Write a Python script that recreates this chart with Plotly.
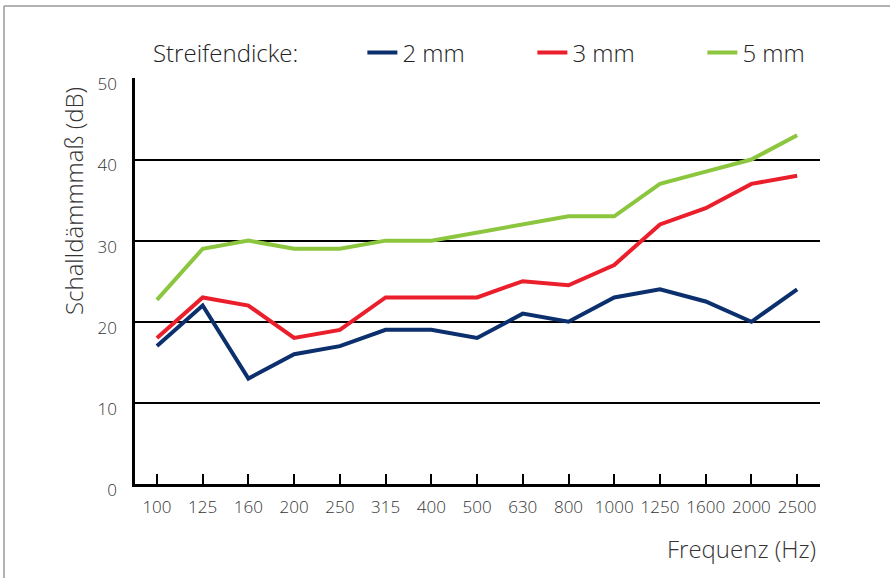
import plotly.graph_objects as go

freqs = ["100", "125", "160", "200", "250", "315", "400", "500", "630", "800",
         "1000", "1250", "1600", "2000", "2500"]
mm2 = [17, 22, 13, 16, 17, 19, 19, 18, 21, 20, 23, 24, 22.5, 20, 24]
mm3 = [18, 23, 22, 18, 19, 23, 23, 23, 25, 24.5, 27, 32, 34, 37, 38]
mm5 = [22.7, 29, 30, 29, 29, 30, 30, 31, 32, 33, 33, 37, 38.5, 40, 43]
series = [("2 mm", mm2, "#0c2f6d"), ("3 mm", mm3, "#ea1f2b"), ("5 mm", mm5, "#8cc63f")]

FONT = "Open Sans"
W, H = 890, 578
L, R, T, B = 135, 70, 78, 94
pw, ph = W - L - R, H - T - B

def px(x):
    return (x - L) / pw

def py(y):
    return (H - B - y) / ph

fig = go.Figure()
xs = list(range(len(freqs)))
for name, vals, col in series:
    fig.add_trace(go.Scatter(x=xs, y=vals, name=name, mode="lines",
                             line=dict(color=col, width=4)))

NB = "\u00a0"
fig.update_layout(
    width=W, height=H,
    margin=dict(l=L, r=R, t=T, b=B),
    plot_bgcolor="white", paper_bgcolor="white",
    font=dict(family=FONT, color="#333333", weight=300),
    showlegend=True,
    legend=dict(orientation="h", x=px(151), xanchor="left", y=py(53), yanchor="middle",
                title=dict(text="Streifendicke:" + NB * 9, font=dict(size=24, color="#222222", weight=300)),
                font=dict(size=24, color="#222222", weight=300),
                entrywidth=125, entrywidthmode="pixels",
                bgcolor="rgba(0,0,0,0)"),
    xaxis=dict(range=[-0.48, 14.5], tickvals=xs, ticktext=freqs,
               showgrid=False, zeroline=False,
               showline=True, linecolor="black", linewidth=3,
               ticks="inside", ticklen=10, tickwidth=2, tickcolor="black",
               tickfont=dict(size=17, color="#333333", weight=300), ticklabelstandoff=6),
    yaxis=dict(range=[0, 50.05], tickvals=[0, 10, 20, 30, 40, 50],
               showgrid=True, gridcolor="black", gridwidth=2,
               zeroline=False, showline=True, linecolor="black", linewidth=2.5,
               ticks="", tickfont=dict(size=17, color="#333333", weight=300),
               ticklabelstandoff=12, ticklabelshift=6),
)

fig.add_annotation(text="Schalldämmmaß (dB)", xref="paper", yref="paper",
                   x=px(73), y=py(201), textangle=-90, showarrow=False,
                   font=dict(size=24, color="#333333", weight=300), xanchor="center", yanchor="middle")
fig.add_annotation(text="Frequenz (Hz)", xref="paper", yref="paper",
                   x=px(818), y=py(548), showarrow=False,
                   font=dict(size=24, color="#333333", weight=300), xanchor="right", yanchor="middle")

fig.add_shape(type="line", xref="paper", yref="paper", x0=px(4), x1=px(900),
              y0=py(6), y1=py(6), line=dict(color="#9a9a9a", width=1.5))
fig.add_shape(type="line", xref="paper", yref="paper", x0=px(4), x1=px(4),
              y0=py(6), y1=py(600), line=dict(color="#9a9a9a", width=1.5))

fig.write_html("out.html", config={"displayModeBar": False},
               post_script="document.body.style.margin='0';document.body.style.overflow='hidden';")
